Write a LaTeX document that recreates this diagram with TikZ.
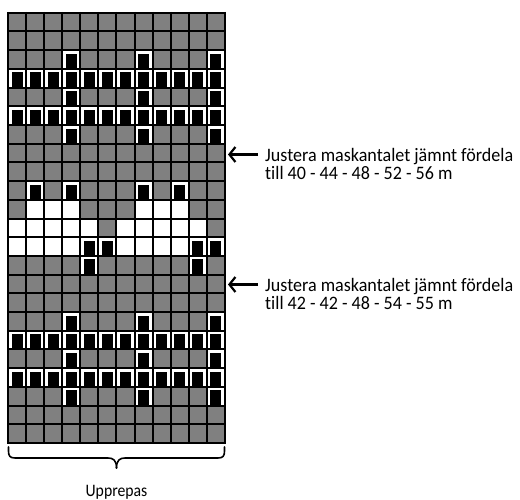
\documentclass[tikz,border=0pt]{standalone}
\usepackage{fontspec}
\setmainfont{Carlito}[Ligatures=NoCommon]
\newfontfamily\notefont{Carlito}[Ligatures=NoCommon,FakeStretch=0.95]
\newfontfamily\capfont{Carlito}[Ligatures=NoCommon,FakeStretch=0.9]
\usetikzlibrary{arrows.meta}
\definecolor{cellgray}{HTML}{808080}
\newcommand\knitstitch[2]{%
  \fill[white] (#1-1,#2-1) rectangle (#1,#2);
  \fill[black] (#1-0.80,#2-0.81) rectangle (#1-0.20,#2-0.05);}
\newcommand\knitwhite[2]{\fill[white] (#1-1,#2-1) rectangle (#1,#2);}
\begin{document}
\begin{tikzpicture}[x=1pt,y=-1pt,
  gridline/.style={line width=2pt,black},
  pointer/.style={line width=2.2pt,-{Straight Barb[length=6pt,width=15pt]}},
  note/.style={font=\notefont\fontsize{19}{17.6}\selectfont,align=left,inner sep=0pt,anchor=base west},
  bracket/.style={line width=1.6pt,line cap=round,line join=round},
  caption/.style={font=\capfont\fontsize{17.5}{18}\selectfont,inner sep=0pt,anchor=base}]
\useasboundingbox (0,0) rectangle (520,500);
\begin{scope}[shift={(8.3,12.7)},x=18.03pt,y=-18.71pt]
  \fill[cellgray] (0,0) rectangle (12,23);
  % white cells
  \foreach \c in {2,3,4,8,9,10} {\knitwhite{\c}{11}}
  \foreach \c in {1,2,3,4,5,7,8,9,10,11} {\knitwhite{\c}{12}}
  \foreach \c in {1,2,3,4,7,8,9,10} {\knitwhite{\c}{13}}
  % stitches
  \foreach \r in {3,5,7,17,19,21} {\foreach \c in {4,8,12} {\knitstitch{\c}{\r}}}
  \foreach \r in {4,6,18,20} {\foreach \c in {1,...,12} {\knitstitch{\c}{\r}}}
  \foreach \c in {2,4,8,10} {\knitstitch{\c}{10}}
  \foreach \c in {5,6,11,12} {\knitstitch{\c}{13}}
  \foreach \c in {5,11} {\knitstitch{\c}{14}}
  % grid
  \foreach \i in {0,...,12} {\draw[gridline] (\i,-0.05) -- (\i,23.05);}
  \foreach \j in {0,...,23} {\draw[gridline] (-0.05,\j) -- (12.05,\j);}
  \coordinate (gridBL) at (0,23);
  \coordinate (gridBR) at (12,23);
\end{scope}
% notes and arrows
\node[note] (note1) at (265,179.3) {Justera maskantalet jämnt fördela\\till 40 - 44 - 48 - 52 - 56 m};
\node[note] (note2) at (265,309.3) {Justera maskantalet jämnt fördela\\till 42 - 42 - 48 - 54 - 55 m};
\coordinate (t1) at (258,154.5); \coordinate (h1) at (228,154.5);
\coordinate (t2) at (258,284.5); \coordinate (h2) at (228,284.5);
\draw[pointer] (t1) -- (h1);
\draw[pointer] (t2) -- (h2);
% brace
\coordinate (bl) at (8.5,447);
\coordinate (br) at (224.5,447);
\coordinate (tip) at (116.5,468);
\draw[bracket] (bl) -- (8.5,451) .. controls (8.5,456) and (10,458) .. (15,458) -- (108,458)
  .. controls (113,458) and (116.5,460) .. (tip);
\draw[bracket] (br) -- (224.5,451) .. controls (224.5,456) and (223,458) .. (218,458) -- (125,458)
  .. controls (120,458) and (116.5,460) .. (tip);
\node[caption] (rep) at (116.5,496.5) {Upprepas};
\end{tikzpicture}
\end{document}
